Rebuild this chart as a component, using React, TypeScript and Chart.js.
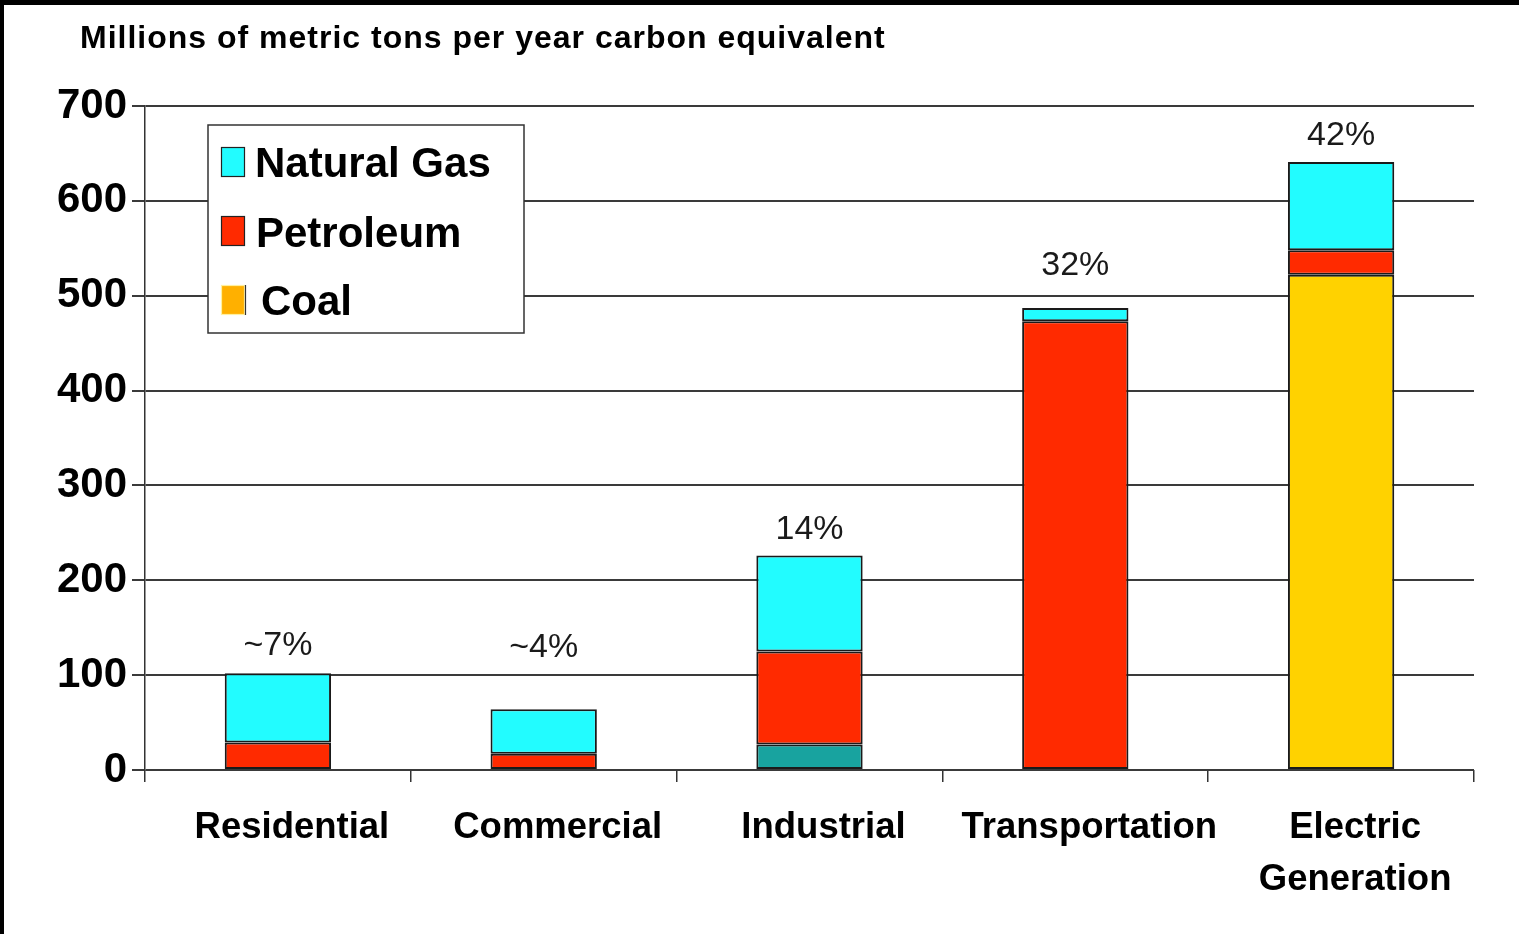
import { useEffect, useRef } from "react";
import { Chart, registerables } from "chart.js";

Chart.register(...registerables);

// Carbon emissions by end-use sector, millions of metric tons carbon equivalent per year
const sectors = ["Residential", "Commercial", "Industrial", "Transportation", ["Electric", "Generation"]];
const coal = [1, 1, 27, 0, 522];
const petroleum = [28, 16, 98, 473, 26];
const naturalGas = [73, 47, 101, 14, 93];
const shareLabels = ["~7%", "~4%", "14%", "32%", "42%"];
const yTickValues = [0, 100, 200, 300, 400, 500, 600, 700];
const titleText = "Millions of metric tons per year carbon equivalent";
const legendItems = ["Natural Gas", "Petroleum", "Coal"];

const FONT = "'Liberation Sans', Arial, Helvetica, sans-serif";
const GAS = "#22FCFF";
const OIL = "#FF2A00";
const COAL = "#FFD200";
const COAL_INDUSTRIAL = "#18A39F";
const COAL_SWATCH = "#FFB000";

const decorPlugin = {
  id: "decor",
  beforeDraw(chart: any) {
    const { ctx, width, height } = chart;
    ctx.save();
    ctx.fillStyle = "#ffffff";
    ctx.fillRect(0, 0, width, height);
    ctx.restore();
  },
  afterDatasetsDraw(chart: any) {
    const { ctx } = chart;
    ctx.save();

    // heading
    ctx.fillStyle = "#000";
    ctx.font = `bold 32px ${FONT}`;
    (ctx as any).letterSpacing = "1px";
    ctx.textAlign = "left";
    ctx.textBaseline = "middle";
    ctx.fillText(titleText, 80, 39);
    (ctx as any).letterSpacing = "0px";

    // share labels above each stack
    const lifts = [28, 62, 26, 42, 26];
    const topMeta = chart.getDatasetMeta(chart.data.datasets.length - 1);
    ctx.font = `34px ${FONT}`;
    ctx.fillStyle = "#1a1a1a";
    ctx.textAlign = "center";
    topMeta.data.forEach((bar: any, i: number) => {
      ctx.fillText(shareLabels[i], bar.x, bar.y - lifts[i]);
    });

    // legend box
    const bx = 208, by = 125, bw = 316, bh = 208;
    ctx.fillStyle = "#fff";
    ctx.fillRect(bx, by, bw, bh);
    ctx.strokeStyle = "#333";
    ctx.lineWidth = 1.5;
    ctx.strokeRect(bx, by, bw, bh);

    const swatches = [
      { fill: GAS, stroke: "#222", y: 147, textX: 255, textY: 165 },
      { fill: OIL, stroke: "#222", y: 216, textX: 256, textY: 235 },
      { fill: COAL_SWATCH, stroke: "#FFF0A0", y: 285, textX: 261, textY: 303 },
    ];
    ctx.font = `bold 42px ${FONT}`;
    ctx.textAlign = "left";
    ctx.textBaseline = "middle";
    swatches.forEach((s, i) => {
      ctx.fillStyle = s.fill;
      ctx.fillRect(221, s.y, 24, 30);
      ctx.strokeStyle = s.stroke;
      ctx.lineWidth = 1.2;
      ctx.strokeRect(221.5, s.y + 0.5, 23, 29);
      if (i === 2) {
        ctx.strokeStyle = "#333";
        ctx.beginPath();
        ctx.moveTo(245.5, s.y);
        ctx.lineTo(245.5, s.y + 30);
        ctx.stroke();
      }
      ctx.fillStyle = "#000";
      ctx.fillText(legendItems[i], s.textX, s.textY);
    });

    ctx.restore();
  },
  afterDraw(chart: any) {
    const { ctx, width } = chart;
    ctx.save();
    ctx.fillStyle = "#000";
    ctx.fillRect(0, 0, width, 5);
    ctx.fillRect(0, 0, 4, chart.height);
    ctx.restore();
  },
};

export default function App() {
  const canvasRef = useRef<HTMLCanvasElement | null>(null);

  useEffect(() => {
    if (!canvasRef.current) return;
    const chart = new Chart(canvasRef.current, {
      type: "bar",
      data: {
        labels: sectors as any,
        datasets: [
          {
            label: "Coal",
            data: coal,
            backgroundColor: [COAL, COAL, COAL_INDUSTRIAL, COAL, COAL],
            borderColor: "#1a1a1a",
            borderWidth: 2,
            borderSkipped: false,
          },
          {
            label: "Petroleum",
            data: petroleum,
            backgroundColor: OIL,
            borderColor: "#1a1a1a",
            borderWidth: 2,
            borderSkipped: false,
          },
          {
            label: "Natural Gas",
            data: naturalGas,
            backgroundColor: GAS,
            borderColor: "#1a1a1a",
            borderWidth: 2,
            borderSkipped: false,
          },
        ],
      },
      options: {
        animation: false,
        responsive: true,
        maintainAspectRatio: false,
        devicePixelRatio: 1,
        layout: { padding: { top: 106, right: 45, left: 0, bottom: 0 } },
        datasets: { bar: { categoryPercentage: 1, barPercentage: 0.4 } },
        plugins: {
          legend: { display: false },
          tooltip: { enabled: false },
          title: { display: false },
        },
        scales: {
          x: {
            stacked: true,
            afterFit: (s: any) => {
              s.height = 164;
            },
            grid: {
              display: true,
              drawOnChartArea: false,
              drawTicks: true,
              tickLength: 12,
              offset: true,
              color: "#333",
              lineWidth: 1.5,
            },
            border: { display: false },
            ticks: {
              color: "#000",
              padding: 20,
              labelOffset: 14,
              maxRotation: 0,
              autoSkip: false,
              font: { family: FONT, size: 36.5, weight: "bold", lineHeight: 1.43 },
            },
          },
          y: {
            stacked: true,
            min: 0,
            max: 700,
            afterFit: (s: any) => {
              s.width = 145;
            },
            afterBuildTicks: (s: any) => {
              s.ticks = yTickValues.map((v) => ({ value: v }));
            },
            grid: {
              color: "#3a3a3a",
              lineWidth: 2,
              drawTicks: true,
              tickLength: 13,
            },
            border: { display: true, color: "#333", width: 1.5 },
            ticks: {
              color: "#000",
              padding: 5,
              font: { family: FONT, size: 42, weight: "bold" },
            },
          },
        },
      },
      plugins: [decorPlugin],
    });
    return () => chart.destroy();
  }, []);

  return (
    <div style={{ position: "absolute", left: 0, top: 0, width: 1519, height: 934, background: "#fff" }}>
      <canvas ref={canvasRef} />
    </div>
  );
}
